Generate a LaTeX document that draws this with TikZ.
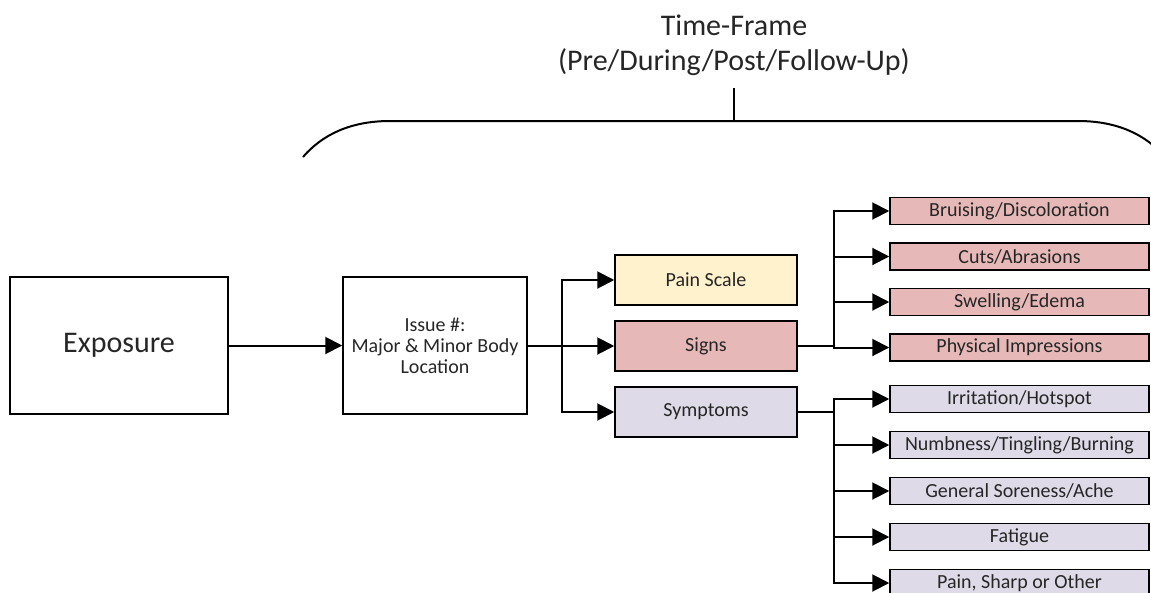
\documentclass[tikz,border=0pt]{standalone}
\usepackage{fontspec}
\setmainfont{Carlito}
\usepackage{xcolor}
\usetikzlibrary{arrows.meta, positioning}

\definecolor{inkgray}{RGB}{38,38,38}
\definecolor{painfill}{RGB}{255,242,204}
\definecolor{signfill}{RGB}{230,184,183}
\definecolor{sympfill}{RGB}{222,218,232}

\begin{document}
\begin{tikzpicture} [x=1pt, y=-1pt, node distance = 46pt, on grid, font=\fontsize{20}{24}\selectfont, text=inkgray,
		box/.style = {draw=black, line width=1.5pt, inner sep=0pt, align=center},
		midbox/.style = {box, minimum width=182pt, minimum height=50pt},
		leafbox/.style = {box, minimum width=259pt, minimum height=27pt},
		link/.style = {line width=2pt},
		arr/.style = {link, -{Triangle[length=17pt, width=17pt]}}]
		% Page frame
		\useasboundingbox (0,0) rectangle (1151,592);

		% Time-frame title and its bracket
		\node (title) [font=\fontsize{30}{35}\selectfont, align=center, inner sep=0pt, anchor=north] at (734,15) {Time-Frame\\(Pre/During/Post/Follow-Up)};
		\coordinate (brtop) at (734,121);
		\draw [link] (303,157) .. controls (322,135) and (350,121) .. (390,121) -- (1078,121) .. controls (1118,121) and (1146,135) .. (1165,157);
		\draw [link] ([yshift=-12pt]title.south) -- (brtop);

		% Start Node
		\node (exposure) [box, minimum width=218pt, minimum height=137pt, font=\fontsize{30}{36}\selectfont] at (119,345.5) {Exposure};

		\node (issue) [box, minimum width=184pt, minimum height=137pt, font=\fontsize{20}{21}\selectfont] at (435,345.5) {Issue \#:\\Major \& Minor Body\\Location};

		% Middle column
		\node (pain) [midbox, fill=painfill] at (706,280) {Pain Scale};
		\node (signs) [midbox, fill=signfill, below = 66pt of pain] {Signs};
		\node (symptoms) [midbox, fill=sympfill, below = 66pt of signs] {Symptoms};

		% Signs column
		\node (bruise) [leafbox, fill=signfill] at (1019.5,211) {Bruising/Discoloration};
		\node (cuts) [leafbox, fill=signfill, below = 45.5pt of bruise] {Cuts/Abrasions};
		\node (swell) [leafbox, fill=signfill, below = 45.5pt of cuts] {Swelling/Edema};
		\node (impress) [leafbox, fill=signfill, below = 45.5pt of swell] {Physical Impressions};

		% Symptoms column
		\node (irrit) [leafbox, fill=sympfill] at (1019.5,399) {Irritation/Hotspot};
		\node (numb) [leafbox, fill=sympfill, below = of irrit] {Numbness/Tingling/Burning};
		\node (sore) [leafbox, fill=sympfill, below = of numb] {General Soreness/Ache};
		\node (fatigue) [leafbox, fill=sympfill, below = of sore] {Fatigue};
		\node (sharp) [leafbox, fill=sympfill, below = of fatigue] {Pain, Sharp or Other};

		% Forks
		\coordinate (fork1) at ([xshift=34pt]issue.east);
		\coordinate (fork2) at ([xshift=36pt]signs.east);
		\coordinate (fork3) at ([xshift=36pt]symptoms.east);

		% Draw Arrows/Connections
		\draw [arr] (exposure) -- (issue);
		\draw [link] (issue.east) -- (fork1);
		\draw [link] (signs.east) -- (fork2);
		\draw [link] (symptoms.east) -- (fork3);
		\foreach \n in {pain, signs, symptoms}
			\draw [arr] (fork1) |- (\n.west);
		\foreach \n in {bruise, cuts, swell, impress}
			\draw [arr] (fork2) |- (\n.west);
		\foreach \n in {irrit, numb, sore, fatigue, sharp}
			\draw [arr] (fork3) |- (\n.west);
	\end{tikzpicture}
\end{document}
